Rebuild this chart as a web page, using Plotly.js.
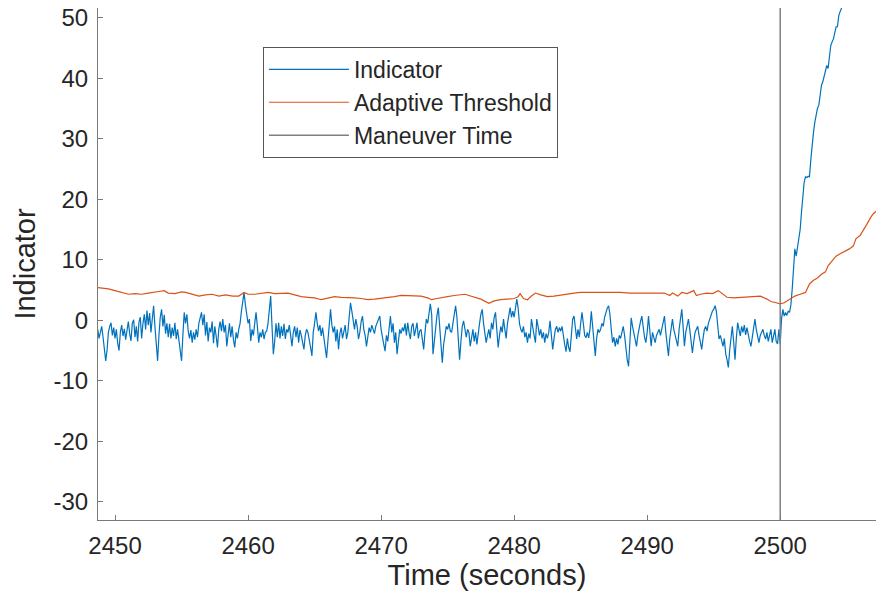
<!DOCTYPE html>
<html>
<head>
<meta charset="utf-8">
<script src="https://cdn.plot.ly/plotly-3.0.1.min.js"></script>
<style>html,body{margin:0;padding:0;background:#fff;}#chart{width:876px;height:599px;}</style>
</head>
<body>
<div id="chart"></div>
<script>
// Indicator sampled every 0.1 s starting at 2448.7 s
var indicatorStart = 2448.7;
var indicatorStep = 0.1;
var indicatorValues = [
  -1.5, -3.0, -2.0,
  -1.0, -2.8, -4.5, -6.7, -5.0, -2.0, -1.0, -0.4, -2.5, -1.2,
  -3.0, -1.5, -3.8, -5.0, -2.0, -0.8, -2.6, -1.4, -3.2, -1.8,
  -0.2, -2.2, -3.4, -0.5, 0.1, -2.8, -1.0, -3.5, -0.3, 0.5,
  -3.0, -0.5, 1.0, -1.5, 1.6, -0.8, 1.2, -2.0, 0.8, 2.4,
  -1.0, -3.5, -6.7, -2.5, 0.5, 1.8, -1.0, 0.9, -2.2, -0.5,
  -2.8, -0.6, -3.0, -1.2, -2.6, -0.4, -3.1, -1.5, -3.5, -5.0,
  -6.7, -2.5, 1.3, -0.5, 1.0, -1.8, -3.0, -1.6, -3.7, -2.0,
  -3.2, -1.5, -2.8, -0.5, 0.5, 1.3, -0.8, 1.0, -2.5, -0.3,
  -3.5, -1.2, -2.0, -0.2, -3.8, -1.0, -2.6, -4.5, -1.5, -0.2,
  -1.8, 0.2, -2.0, -0.8, -4.3, -2.5, -0.5, -2.8, -1.0, -3.2,
  -4.5, -2.0, -3.0, -1.5, -0.5, 1.5, 3.5, 4.6, 2.5, 0.8,
  -0.5, 0.2, -3.4, -1.5, -2.5, -0.5, 1.3, -1.0, -3.7, -2.0,
  -2.8, -1.5, -3.1, -2.0, -1.8, -0.5, 2.5, 4.0, -1.0, -5.6,
  -3.5, -0.5, -2.8, -0.4, -3.0, -1.0, -2.6, -0.6, -3.1, -1.5,
  -2.0, -0.8, -2.5, -4.3, -2.0, -1.0, -2.8, -1.2, -3.7, -1.6,
  -2.5, -3.5, -4.8, -2.5, -1.5, -2.0, -3.0, -4.5, -5.9, -2.0,
  -0.5, 1.3, -0.5, -1.8, -0.8, -2.6, -1.2, -3.0, -4.5, -6.2,
  -3.5, -0.5, 1.8, -0.8, -2.0, -1.0, -3.5, -1.5, -4.8, -2.2,
  -1.2, -3.0, -1.8, -0.8, -3.1, -2.0, 0.5, 2.9, 1.5, -0.5,
  -1.5, 0.2, -1.0, -3.1, -2.0, -0.2, 0.7, -1.5, -2.5, -4.3,
  -3.0, -1.2, -2.0, -0.8, -1.5, -2.2, -1.0, -0.3, 0.4, 0.7,
  -1.5, -3.0, -4.0, -5.1, -2.5, -3.5, -1.0, 0.7, -2.0, -0.5,
  -3.7, -2.0, -5.6, -3.0, -1.5, -2.2, -1.2, -1.8, -0.5, -2.5,
  -0.4, -2.0, -3.1, -1.0, -0.5, -2.6, -1.5, -0.4, -3.0, -1.8,
  -1.5, -3.0, -4.8, -2.0, 0.2, -0.5, 0.8, 2.7, 1.0, -5.6,
  -3.5, -1.0, 0.8, 2.1, -1.5, -4.5, -7.0, -4.0, -2.5, -1.0,
  -1.5, -0.5, -1.8, -2.0, -0.5, 1.0, 2.4, 0.5, -2.5, -6.5,
  -3.5, -1.0, -0.1, -1.5, -2.8, -1.5, -2.0, -4.3, -2.5, -1.5,
  -3.5, -2.0, -4.0, -1.8, -0.5, 1.0, 1.8, -0.5, -2.0, -3.7,
  -2.5, -1.5, -3.0, -0.4, -1.5, 0.5, 1.3, -1.0, -4.5, -2.5,
  -1.0, -2.0, 0.2, -1.5, -3.0, -0.5, 1.0, 2.1, 0.5, 1.5,
  0.5, 1.8, 3.5, 2.0, -0.5, -1.5, -2.0, -1.0, -2.8, -2.0,
  -3.7, -2.2, -3.0, 0.2, -1.5, -2.5, -3.7, 0.2, -1.0, -2.5,
  -1.5, -3.0, -2.0, -3.7, -2.2, -3.0, -2.0, -0.1, -2.5, -4.8,
  -3.0, -1.5, -1.0, -2.0, -1.2, -1.8, -1.0, -3.0, -4.0, -5.2,
  -3.0, -4.5, -5.2, -2.5, 0.2, 0.7, -1.0, -3.1, -1.5, -2.8,
  -0.5, 1.3, -0.5, -2.5, -2.9, -2.0, -2.9, -1.5, 1.5, -1.0,
  -3.5, -5.9, -3.0, -1.5, -2.0, -1.5, -0.5, -1.0, 0.5, 1.5,
  2.0, 2.4, 1.0, -1.5, -3.7, -2.8, -4.3, -3.0, -4.0, -2.5,
  -3.0, -2.0, -1.0, -2.5, -5.0, -6.5, -7.6, -3.5, 0.4, -1.0,
  -2.0, -3.0, -4.3, -2.5, -1.0, -0.2, 0.7, -1.5, -2.8, -3.7,
  -2.0, 0.7, -2.5, -4.3, -2.0, -3.0, -3.7, -2.5, -1.8, -1.5,
  -2.5, -1.5, -0.5, 0.7, -2.0, -4.5, -5.9, -3.0, -1.0, 0.2,
  -1.5, -2.5, -3.5, -4.3, -1.5, 0.5, 1.8, -1.0, -4.3, -2.0,
  -0.5, 0.2, -1.5, -3.5, -5.4, -3.5, -2.0, -1.5, -1.0, -2.5,
  -3.5, -4.8, -3.0, -1.5, -1.0, -1.8, -0.5, 0.2, 0.7, 1.5,
  1.8, 2.4, 1.5, -1.0, -3.1, -2.5, -3.5, -4.3, -3.0, -5.5,
  -6.5, -7.8, -5.0, -2.5, -1.0, -3.5, -6.5, -3.0, -0.4, -1.5,
  -2.6, -1.0, -2.0, -0.8, -2.4, -1.2, -2.6, -3.5, -4.3, -2.5,
  -1.0, 0.2, -1.5, -2.8, -3.7, -2.5, -2.0, -1.5, -2.5, -3.1,
  -2.0, -3.5, -2.5, -1.5, -3.7, -2.5, -1.5, -3.5, -3.9, -1.5,
  -3.9,
  0.2, 1.8, 0.7, 1.3, 0.8, 1.5, 1.3, 2.5, 5.1,
  8.5, 11.8, 10.6, 12.0, 13.9, 15.0, 17.9, 20.5, 22.8, 23.7,
  23.6, 23.8, 23.7, 26.5, 29.4, 31.0, 32.7, 34.0, 35.0, 35.5,
  37.0, 38.8, 39.4, 40.5, 41.6, 42.1, 41.6, 43.5, 45.4, 46.0,
  46.5, 47.5, 48.5, 48.5, 50.3, 51.0, 51.5, 53.0, 55.0
];

var thresholdTimes = [
  2448.7, 2449.0, 2449.5, 2450.0, 2450.5, 2451.0, 2451.5, 2452.0, 2452.5, 2453.0,
  2453.4, 2453.7, 2454.0, 2454.5, 2455.0, 2455.3, 2455.8, 2456.3, 2456.8, 2457.3,
  2457.8, 2458.3, 2458.85, 2459.3, 2459.7, 2460.0, 2460.5, 2461.0, 2461.5, 2462.0,
  2462.5, 2463.0, 2463.5, 2464.0, 2464.5, 2465.0, 2465.5, 2466.0, 2466.5, 2467.0,
  2467.5, 2468.0, 2468.5, 2469.0, 2469.5, 2470.0, 2470.5, 2471.0, 2471.5, 2472.0,
  2472.5, 2473.0, 2473.5, 2473.8, 2474.2, 2474.6, 2475.0, 2475.5, 2476.0, 2476.3,
  2476.6, 2477.0, 2477.5, 2478.1, 2478.5, 2479.0, 2479.5, 2480.0, 2480.3, 2480.45,
  2480.7, 2481.0, 2481.3, 2481.6, 2482.0, 2482.5, 2483.0, 2483.5, 2484.0, 2484.5,
  2485.0, 2486.0, 2487.0, 2488.0, 2488.7, 2489.3, 2490.0, 2490.8, 2491.3, 2491.7,
  2491.9, 2492.3, 2492.6, 2493.0, 2493.5, 2493.7, 2494.0, 2494.5, 2494.9, 2495.35,
  2495.7, 2496.0, 2496.5, 2497.0, 2497.5, 2498.0, 2498.5, 2499.0, 2499.3, 2499.7,
  2500.0, 2500.3, 2500.7, 2501.1, 2501.5, 2501.9, 2502.2, 2502.5, 2502.8, 2503.1,
  2503.4, 2503.6, 2503.9, 2504.2, 2504.5, 2504.9, 2505.2, 2505.5, 2505.7, 2506.0,
  2506.3, 2506.5, 2506.8, 2507.0, 2507.3
];
var thresholdValues = [
  5.4, 5.3, 5.2, 4.9, 4.6, 4.3, 4.4, 4.3, 4.5, 4.6,
  4.8, 4.9, 4.5, 4.4, 4.7, 4.6, 4.3, 4.0, 4.2, 4.3,
  4.0, 4.2, 4.0, 4.0, 4.6, 4.3, 4.3, 4.5, 4.6, 4.4,
  4.5, 4.5, 4.2, 3.9, 3.8, 3.7, 3.4, 3.7, 3.9, 3.8,
  3.8, 3.7, 3.6, 3.4, 3.5, 3.6, 3.8, 3.9, 4.1, 4.1,
  4.0, 4.0, 3.7, 3.4, 3.6, 3.8, 3.9, 4.1, 4.2, 4.3,
  4.1, 3.8, 3.5, 2.8, 3.2, 3.4, 3.5, 3.6, 3.9, 4.4,
  3.6, 3.4, 4.0, 4.5, 4.2, 3.9, 4.0, 4.2, 4.3, 4.5,
  4.6, 4.6, 4.7, 4.6, 4.5, 4.5, 4.6, 4.5, 4.5, 4.1,
  4.5, 4.0, 4.6, 4.4, 4.9, 4.1, 4.3, 4.5, 4.4, 4.9,
  4.3, 3.8, 3.7, 3.8, 3.8, 4.0, 4.0, 3.5, 3.1, 2.9,
  2.7, 2.9, 3.5, 4.0, 4.3, 4.6, 6.0, 6.6, 7.0, 7.6,
  8.0, 9.0, 9.8, 10.6, 11.0, 11.4, 11.8, 12.3, 13.5, 14.0,
  15.0, 15.8, 17.0, 17.6, 18.2
];

var maneuverTime = 2500;
var xTicks = [2450, 2460, 2470, 2480, 2490, 2500];
var xTickText = ['2450', '2460', '2470', '2480', '2490', '2500'];
var yTicks = [-30, -20, -10, 0, 10, 20, 30, 40, 50];
var yTickText = ['-30', '-20', '-10', '0', '10', '20', '30', '40', '50'];
var xRange = [2448.72, 2507.2];
var yRange = [-33.0, 51.6];

var indicatorTimes = indicatorValues.map(function (v, i) {
  return Math.round((indicatorStart + i * indicatorStep) * 100) / 100;
});

var traces = [
  {x: indicatorTimes, y: indicatorValues, type: 'scatter', mode: 'lines', name: 'Indicator',
   line: {color: '#0072BD', width: 1.2}},
  {x: thresholdTimes, y: thresholdValues, type: 'scatter', mode: 'lines', name: 'Adaptive Threshold',
   line: {color: '#D95319', width: 1.2}},
  {x: [maneuverTime, maneuverTime], y: yRange, type: 'scatter', mode: 'lines', name: 'Maneuver Time',
   line: {color: '#808080', width: 1.5}}
];

var FAM = 'Liberation Sans, Arial, sans-serif';
var tickFont = {family: FAM, size: 24, color: '#262626'};
var titleFont = {family: FAM, size: 29, color: '#262626'};
var layout = {
  width: 876, height: 599,
  margin: {l: 98, r: 0, t: 8, b: 79},
  paper_bgcolor: '#ffffff', plot_bgcolor: '#ffffff',
  font: tickFont,
  showlegend: true,
  legend: {x: 0.212, y: 0.924, xanchor: 'left', yanchor: 'top',
    bgcolor: '#ffffff', bordercolor: '#555555', borderwidth: 1,
    font: {family: FAM, size: 23, color: '#262626'},
    itemwidth: 80, tracegroupgap: 0},
  xaxis: {range: xRange, tickvals: xTicks, ticktext: xTickText, ticks: 'inside', ticklen: 5, tickcolor: '#7a7a7a',
    showline: true, linecolor: '#7a7a7a', linewidth: 1, showgrid: false, zeroline: false,
    tickfont: tickFont, ticklabelstandoff: 4,
    title: {text: 'Time (seconds)', font: titleFont, standoff: 4}},
  yaxis: {range: yRange, tickvals: yTicks, ticktext: yTickText, ticks: 'inside', ticklen: 5, tickcolor: '#7a7a7a',
    showline: true, linecolor: '#7a7a7a', linewidth: 1, showgrid: false, zeroline: false,
    tickfont: tickFont, ticklabelstandoff: 4,
    title: {text: 'Indicator', font: titleFont, standoff: 9}}
};

Plotly.newPlot('chart', traces, layout, {displayModeBar: false, staticPlot: true});
</script>
</body>
</html>
